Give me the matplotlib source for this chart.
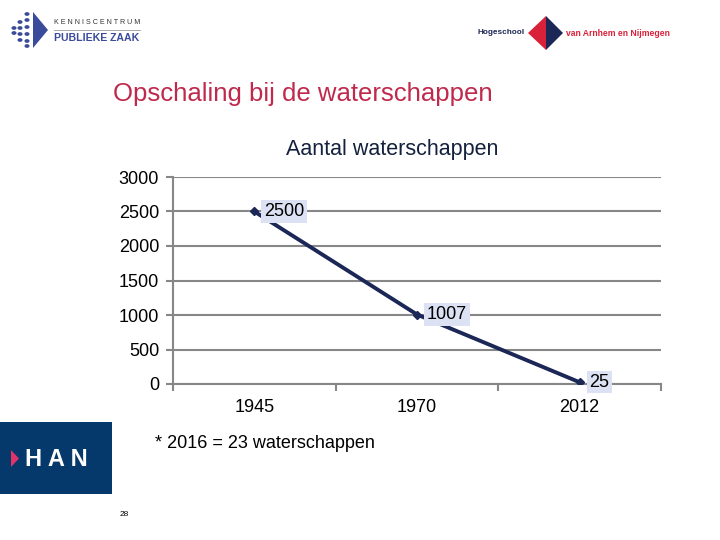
import matplotlib
matplotlib.use("Agg")
import matplotlib.pyplot as plt
from matplotlib.patches import Polygon, Rectangle, Circle

plt.rcParams['font.family'] = ['Liberation Sans', 'DejaVu Sans']

# data
jaren = ['1945', '1970', '2012']
aantal = [2500, 1007, 25]
y_ticks = [0, 500, 1000, 1500, 2000, 2500, 3000]

W, H = 720, 540
fig = plt.figure(figsize=(7.2, 5.4), dpi=100)
fig.patch.set_facecolor('white')

def fx(px):
    return px / W

def fy(py):
    return 1 - py / H

navy = '#1B2756'
grid_grey = '#878787'

# chart axes
ax = fig.add_axes([fx(173), fy(384), fx(661) - fx(173), fy(177) - fy(384)])
x = list(range(len(jaren)))
ax.plot(x, aantal, color=navy, lw=2.8, marker='D', ms=4.5, zorder=3)
for xi, v in zip(x, aantal):
    ax.annotate(str(v), (xi, v), xytext=(7, 0), textcoords='offset points',
                ha='left', va='center', fontsize=13, color='black', zorder=4,
                bbox=dict(boxstyle='square,pad=0.15', fc='#DCE2F3', ec='none'))

ax.set_xlim(-0.5, len(jaren) - 0.5)
ax.set_ylim(0, 3000)
ax.set_yticks(y_ticks)
ax.set_yticklabels([str(t) for t in y_ticks])
ax.set_xticks(x)
ax.set_xticklabels(jaren)
ax.set_xticks([i - 0.5 for i in range(len(jaren) + 1)], minor=True)
ax.tick_params(axis='x', which='major', length=0, pad=11, labelsize=13)
ax.tick_params(axis='x', which='minor', length=5, width=1.5, color=grid_grey, direction='out')
ax.tick_params(axis='y', length=5, width=1.5, color=grid_grey, pad=5, labelsize=13)
ax.grid(axis='y', color=grid_grey, lw=1.5)
ax.set_axisbelow(True)
for s in ['top', 'right']:
    ax.spines[s].set_visible(False)
for s in ['left', 'bottom']:
    ax.spines[s].set_color(grid_grey)
    ax.spines[s].set_linewidth(1.5)

# titles and notes
fig.text(fx(113), fy(94), 'Opschaling bij de waterschappen', fontsize=18.5,
         color='#C0294B', ha='left', va='center')
fig.text(fx(392), fy(149), 'Aantal waterschappen', fontsize=15.5,
         color='#14213D', ha='center', va='center')
fig.text(fx(155), fy(443), '* 2016 = 23 waterschappen', fontsize=13,
         color='black', ha='left', va='center')
fig.text(fx(120), fy(515), '28', fontsize=6, color='black', ha='left', va='center')

# logo: Kenniscentrum Publieke Zaak
kpz = '#3B4B9B'
fig.patches.append(Polygon([(fx(33), fy(12)), (fx(33), fy(48)), (fx(48), fy(30))],
                           closed=True, fc=kpz, ec='none', transform=fig.transFigure))
for cx, ys in [(14, [28, 33]), (20, [22, 28, 34, 40]), (27, [14, 20, 27, 34, 41, 46])]:
    for cy in ys:
        fig.patches.append(Circle((fx(cx), fy(cy)), 0.0035, fc=kpz, ec='none',
                                  transform=fig.transFigure))
fig.text(fx(54), fy(22), 'K E N N I S C E N T R U M', fontsize=5.1, color='#333333',
         ha='left', va='center')
fig.add_artist(plt.Line2D([fx(54), fx(140)], [fy(30), fy(30)], color='#999999', lw=0.6))
fig.text(fx(54), fy(38), 'PUBLIEKE ZAAK', fontsize=7.6, color=kpz, weight='bold',
         ha='left', va='center')

# logo: Hogeschool van Arnhem en Nijmegen
fig.text(fx(525), fy(33), 'Hogeschool', fontsize=5.9, color='#1B2756', weight='bold',
         ha='right', va='center')
fig.patches.append(Polygon([(fx(546), fy(16)), (fx(528), fy(33)), (fx(546), fy(50))],
                           closed=True, fc='#D9213A', ec='none', transform=fig.transFigure))
fig.patches.append(Polygon([(fx(546), fy(16)), (fx(563), fy(33)), (fx(546), fy(50))],
                           closed=True, fc='#1B2756', ec='none', transform=fig.transFigure))
fig.text(fx(566), fy(33), 'van Arnhem en Nijmegen', fontsize=6.2, color='#D9213A',
         weight='bold', ha='left', va='center')

# logo: HAN
fig.patches.append(Rectangle((fx(0), fy(494)), fx(112), fy(422) - fy(494), fc='#05386B',
                             ec='none', transform=fig.transFigure))
fig.patches.append(Polygon([(fx(11), fy(450)), (fx(11), fy(467)), (fx(19), fy(458.5))],
                           closed=True, fc='#E0336A', ec='none', transform=fig.transFigure))
fig.text(fx(25), fy(459), 'H A N', fontsize=17, color='white', weight='bold',
         ha='left', va='center')

fig.savefig('out.png', dpi=100)
